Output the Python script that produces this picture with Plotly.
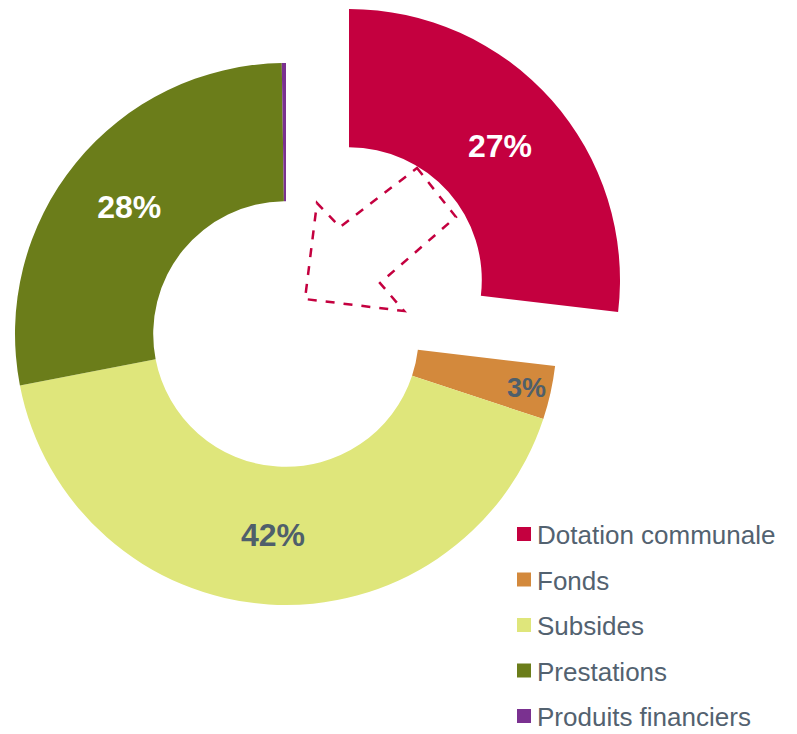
import plotly.graph_objects as go

# Données
labels = ["Dotation communale", "Fonds", "Subsides", "Prestations", "Produits financiers"]
values = [26.9, 3.2, 41.9, 27.8, 0.25]
colors = ["#C4003F", "#D3893C", "#DFE67B", "#6B7D1A", "#7A3190"]
text_colors = ["white", "#4F5F6B", "#4F5F6B", "white", "white"]

W, H = 797, 734
transparent = "rgba(0,0,0,0)"


def px_x(x):
    return x / W


def px_y(y):
    return 1 - y / H


# anneau principal (sans la dotation) et part détachée
ring = dict(x=[px_x(15), px_x(557)], y=[px_y(605), px_y(63)])
shift_x, shift_y = 63, -54
pulled = dict(x=[px_x(15 + shift_x), px_x(557 + shift_x)],
              y=[px_y(605 + shift_y), px_y(63 + shift_y)])

label_font = dict(family="Liberation Sans, Arial", size=32, color=text_colors)

fig = go.Figure()

main_colors = [transparent] + colors[1:]
main_text = [""] + ["<b>%{percent:.0%}</b>"] * 3 + [""]
fig.add_trace(go.Pie(
    labels=labels, values=values, hole=0.49, sort=False, direction="clockwise",
    rotation=0, domain=ring,
    marker=dict(colors=main_colors, line=dict(width=0)),
    texttemplate=main_text, textposition="inside", insidetextorientation="horizontal",
    insidetextfont=label_font,
    showlegend=False, hoverinfo="label+percent",
))

pulled_colors = [colors[0]] + [transparent] * 4
pulled_text = ["<b>%{percent:.0%}</b>"] + [""] * 4
fig.add_trace(go.Pie(
    labels=labels, values=values, hole=0.49, sort=False, direction="clockwise",
    rotation=0, domain=pulled,
    marker=dict(colors=pulled_colors, line=dict(width=0)),
    texttemplate=pulled_text, textposition="inside", insidetextorientation="horizontal",
    insidetextfont=label_font,
    showlegend=False, hoverinfo="label+percent",
))

# flèche en pointillés
arrow = [(417, 168), (456, 217), (380, 283), (404, 311), (305, 299), (317, 203), (340, 227)]
path = "M " + " L ".join(f"{px_x(x):.4f},{px_y(y):.4f}" for x, y in arrow) + " Z"
fig.add_shape(type="path", path=path, xref="paper", yref="paper",
              line=dict(color="#C4003F", width=2.5, dash="dash"))

# légende (aucun libellé n'a de jambage, boîte de texte resserrée)
for i, (lab, col) in enumerate(zip(labels, colors)):
    yc = 534 + i * 45.5
    fig.add_shape(type="rect", xref="paper", yref="paper",
                  x0=px_x(517), x1=px_x(531), y0=px_y(yc + 7), y1=px_y(yc - 7),
                  fillcolor=col, line=dict(width=0))
    fig.add_annotation(x=px_x(535), y=px_y(yc + 1), xref="paper", yref="paper",
                       text=lab, showarrow=False, xanchor="left", yanchor="middle",
                       height=28, valign="middle",
                       font=dict(family="Liberation Sans, Arial", size=26, color="#536270"))

fig.update_layout(
    width=W, height=H,
    margin=dict(l=0, r=0, t=0, b=0),
    paper_bgcolor="white", plot_bgcolor="white",
)

fig.write_html("out.html", config={"displayModeBar": False},
               post_script="document.body.style.margin='0';")
